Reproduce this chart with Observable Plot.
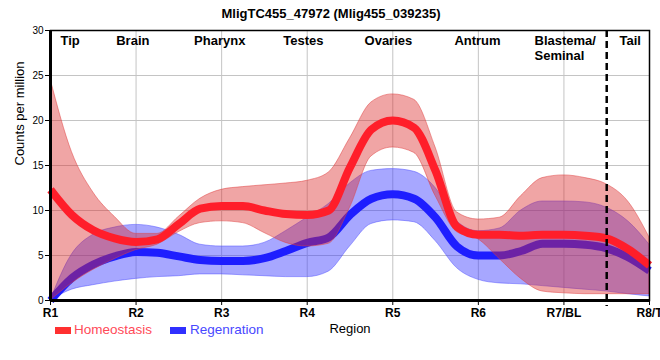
<!DOCTYPE html>
<html><head><meta charset="utf-8">
<script src="https://cdn.jsdelivr.net/npm/d3@7"></script>
<script src="https://cdn.jsdelivr.net/npm/@observablehq/plot@0.6"></script>
<style>
body{margin:0;background:#fff;font-family:"Liberation Sans",Arial,sans-serif}
#wrap{position:relative;width:660px;height:360px}
#wrap svg{display:block}
.leg{position:absolute;top:322px;height:16px;line-height:16px;font-size:13.5px;display:flex;align-items:center;white-space:nowrap}
.sw{display:inline-block;width:16px;height:7px}
</style></head><body><div id="wrap"></div>
<script>
const regions = ["R1","R2","R3","R4","R5","R6","R7/BL","R8/T"];
const regionNames = ["Tip","Brain","Pharynx","Testes","Ovaries","Antrum","Blastema/\nSeminal","Tail"];
const regionLabelX = [0.117,0.768,1.678,2.72,3.67,4.72,5.656,6.65];
const samplePos = [0,0.25,0.5,0.75,1,1.25,1.5,1.75,2,2.25,2.5,2.75,3,3.25,3.5,3.75,4,4.25,4.5,4.75,5,5.25,5.5,5.75,6,6.25,6.5,6.75,7];
const homeoMean = [12.3,9.5,7.8,6.9,6.5,6.8,8.5,10.2,10.5,10.5,10.0,9.6,9.5,10.0,14.8,19.0,20.0,19.2,14.4,8.2,7.3,7.3,7.2,7.3,7.3,7.2,6.9,5.7,3.9];
const homeoLow = [0,1.9,3.4,4.6,5.6,6.2,7.6,8.6,8.8,8.6,7.5,6.4,6.0,6.3,10.3,16.0,17.0,16.4,11.6,7.6,6.8,4.6,2.4,1.0,0.8,0.7,0.7,0.7,0.7];
const homeoHigh = [24.6,16.5,12.0,9.3,7.4,7.4,9.3,11.3,12.3,12.6,12.8,13.0,13.3,14.2,18.0,22.0,22.9,22.3,17.0,9.8,9.0,9.2,11.6,13.6,13.9,13.6,12.9,11.0,7.0];
const regenMean = [0,2.5,4.0,4.9,5.4,5.3,4.9,4.5,4.4,4.4,4.7,5.5,6.4,7.0,9.5,11.3,11.8,11.3,9.2,6.0,5.0,5.0,5.5,6.3,6.3,6.2,5.8,4.8,3.3];
const regenLow = [0,1.2,1.7,2.1,2.4,2.6,2.7,2.9,2.9,2.8,2.7,2.6,2.6,3.2,6.0,8.5,8.9,8.7,6.6,3.6,2.3,1.9,1.8,1.6,1.4,1.2,1.0,0.7,0.45];
const regenHigh = [0,5.1,7.3,8.1,8.4,8.1,7.3,6.2,6.0,6.0,6.4,7.7,9.2,10.7,13.0,14.4,14.6,14.3,12.5,8.8,7.7,8.0,10.0,11.0,11.0,10.9,10.3,8.8,6.2];
const yTicks = [0,5,10,15,20,25,30];
const title = "MligTC455_47972 (Mlig455_039235)";

const rows = samplePos.map((x,i)=>({x, hm:homeoMean[i], hl:homeoLow[i], hh:homeoHigh[i], rm:regenMean[i], rl:regenLow[i], rh:regenHigh[i]}));

const chart = Plot.plot({
  width:660, height:360, marginLeft:50, marginRight:11, marginTop:30, marginBottom:60,
  style:{fontFamily:'"Liberation Sans", Arial, sans-serif', background:"white", color:"black"},
  x:{domain:[0,7]}, y:{domain:[0,30]},
  marks:[
    Plot.gridY([5,10,15,20,25],{stroke:"#c4c4c4", strokeOpacity:1}),
    Plot.gridX([1,2,3,4,5,6],{stroke:"#c4c4c4", strokeOpacity:1}),
    Plot.areaY(rows,{x:"x",y1:"rl",y2:"rh",fill:"#3c3cff",fillOpacity:0.45,stroke:"#5050ff",strokeOpacity:0.5,strokeWidth:1,curve:"monotone-x"}),
    Plot.lineY(rows,{x:"x",y:"rm",stroke:"#1e1eff",strokeWidth:8,strokeLinecap:"butt",curve:"monotone-x"}),
    Plot.areaY(rows,{x:"x",y1:"hl",y2:"hh",fill:"#dc2828",fillOpacity:0.42,stroke:"#e04040",strokeOpacity:0.5,strokeWidth:1,curve:"monotone-x"}),
    Plot.lineY(rows,{x:"x",y:"hm",stroke:"#ff1e2a",strokeWidth:8,strokeLinecap:"butt",curve:"monotone-x"}),
    Plot.ruleX([6.5],{stroke:"black",strokeWidth:2.5,strokeDasharray:"7,4",insetBottom:-6}),
    Plot.frame({stroke:"black",strokeWidth:1.5}),
    Plot.ruleX([0],{strokeWidth:3}),
    Plot.ruleY([0],{strokeWidth:3}),
    Plot.axisY({ticks:yTicks, tickSize:5, tickPadding:2, fontSize:10, label:null}),
    Plot.axisX({ticks:d3.range(regions.length), tickFormat:i=>regions[i], tickSize:5, tickPadding:3, fontSize:12, fontWeight:"bold", label:null}),
    Plot.text(regionNames,{x:regionLabelX, text:d=>d, frameAnchor:"top", textAnchor:"start", lineAnchor:"top", dy:5, fontWeight:"bold", fontSize:13, lineHeight:1.08}),
    Plot.text([title],{text:d=>d, frameAnchor:"top", dx:-19, dy:-22, fontWeight:"bold", fontSize:13}),
    Plot.text(["Counts per million"],{text:d=>d, frameAnchor:"left", rotate:-90, dx:-31, fontSize:13}),
    Plot.text(["Region"],{text:d=>d, frameAnchor:"bottom", dy:32, fontSize:13})
  ]
});
const wrap = document.getElementById("wrap");
wrap.appendChild(chart);
const legendItems = [
  {label:"Homeostasis", sw:"#ff3030", color:"#ff4a58", left:55},
  {label:"Regenration", sw:"#3030ff", color:"#4848ff", left:170}
];
for (const it of legendItems) {
  const d = document.createElement("div");
  d.className = "leg";
  d.style.left = it.left + "px";
  d.innerHTML = `<span class="sw" style="background:${it.sw};margin-right:${it.left===55?3:4}px"></span><span style="color:${it.color}">${it.label}</span>`;
  wrap.appendChild(d);
}
</script></body></html>
